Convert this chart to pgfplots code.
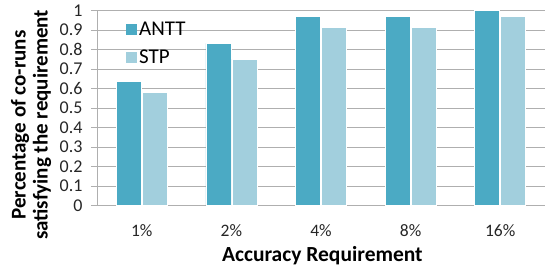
\documentclass[border=0pt]{standalone}
\usepackage{pgfplots}
\pgfplotsset{compat=1.18}
\usepackage{fontspec}
\setmainfont{Carlito}
\definecolor{antt}{RGB}{75,170,196}
\definecolor{stp}{RGB}{162,207,221}
\definecolor{gridc}{RGB}{175,175,175}
\begin{document}
\begin{tikzpicture}
\path[use as bounding box] (-97pt,-61.3pt) rectangle (448pt,205.7pt);
\begin{axis}[
  name=ax, at={(0,0)}, anchor=south west,
  scale only axis, width=448pt, height=195pt,
  ymin=0, ymax=1, xmin=-0.5, xmax=4.5,
  ybar=1pt, bar width=25pt,
  ytick={0,0.1,0.2,0.3,0.4,0.5,0.6,0.7,0.8,0.9,1},
  yticklabels={0,0.1,0.2,0.3,0.4,0.5,0.6,0.7,0.8,0.9,1},
  xtick={0,1,2,3,4},
  xticklabels={1\%,2\%,4\%,8\%,16\%},
  extra x ticks={0.5,1.5,2.5,3.5},
  extra x tick labels={},
  extra x tick style={major tick length=5pt, tick style={gridc, line width=0.8pt}},
  x tick style={draw=none},
  y tick style={gridc, line width=0.8pt},
  major tick length=6pt,
  tick align=outside,
  axis lines*=left,
  axis line style={gridc, line width=0.9pt},
  ymajorgrids, grid style={gridc, line width=0.9pt},
  tick label style={text=black!85},
  xticklabel style={font=\fontsize{17.5}{20}\selectfont, anchor=base, yshift=-25pt},
  yticklabel style={font=\fontsize{18}{20}\selectfont, anchor=east, xshift=-5pt},
  /pgf/number format/assume math mode=true,
  xlabel={Accuracy Requirement},
  xlabel style={font=\bfseries\fontsize{21.5}{24}\selectfont, at={(axis description cs:0.503,0)}, anchor=base, yshift=-55.5pt},
  ylabel={Percentage of co-runs\\satisfying the requirement},
  ylabel style={align=center, font=\bfseries\fontsize{21}{22}\selectfont, at={(axis description cs:0,0.414)}, anchor=center, yshift=66pt},
  legend style={at={(axis description cs:0,1)}, anchor=north west, xshift=26pt, yshift=-7pt, draw=none, fill=none,
    font=\fontsize{21}{23}\selectfont, row sep=9pt, cells={anchor=west}},
  legend image code/.code={\fill[#1,draw=none] (0pt,-5.5pt) rectangle (11pt,5.5pt);},
  enlarge x limits=false,
]
\addplot[fill=antt, draw=white, line width=0.8pt] coordinates {(0,0.636) (1,0.833) (2,0.969) (3,0.969) (4,1.0)};
\addplot[fill=stp, draw=white, line width=0.8pt] coordinates {(0,0.583) (1,0.752) (2,0.915) (3,0.915) (4,0.969)};
\legend{ANTT,STP}
\end{axis}
\end{tikzpicture}
\end{document}
